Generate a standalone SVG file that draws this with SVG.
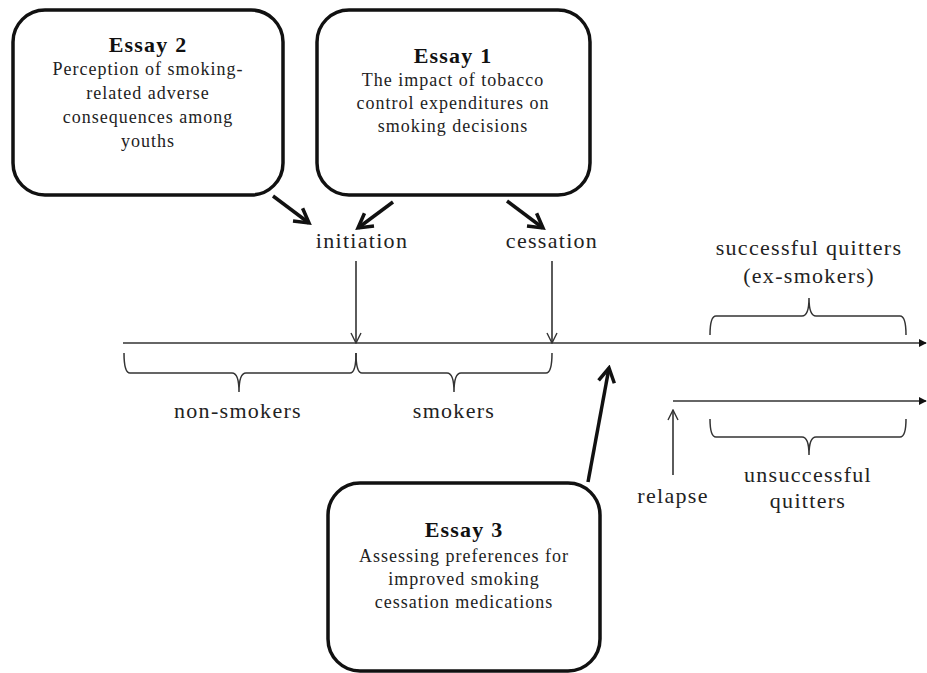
<svg xmlns="http://www.w3.org/2000/svg" width="927" height="673" viewBox="0 0 927 673">
<defs>
<marker id="thin" viewBox="0 0 12 12" refX="11" refY="6" markerWidth="12" markerHeight="12" markerUnits="userSpaceOnUse" orient="auto">
<path d="M1,1 L11,6 L1,11" fill="none" stroke="#333" stroke-width="1.4"/>
</marker>
<marker id="thick" viewBox="0 0 20 20" refX="17" refY="10" markerWidth="20" markerHeight="20" markerUnits="userSpaceOnUse" orient="auto">
<path d="M3,2 L17,10 L3,18" fill="none" stroke="#111" stroke-width="3.5" stroke-linejoin="miter"/>
</marker>
<marker id="tri" viewBox="0 0 10 10" refX="9" refY="5" markerWidth="8" markerHeight="8" markerUnits="userSpaceOnUse" orient="auto">
<path d="M0,0 L10,5 L0,10 Z" fill="#111"/>
</marker>
</defs>
<style>
.box{fill:#fff;stroke:#111;stroke-width:3.5}
.title{font-family:"Liberation Serif",serif;font-weight:bold;font-size:22px;fill:#111;text-anchor:middle;letter-spacing:1.2px}
.body{font-family:"Liberation Serif",serif;font-size:18px;fill:#222;text-anchor:middle;letter-spacing:1px}
.lbl{font-family:"Liberation Serif",serif;font-size:22px;fill:#222;text-anchor:middle;letter-spacing:1.3px}
.line{fill:none;stroke:#333;stroke-width:1.6}
.brace{fill:none;stroke:#333;stroke-width:1.5}
.big{fill:none;stroke:#111;stroke-width:3.5}
</style>
<g id="essay2">
<rect class="box" x="13" y="10" width="270" height="185" rx="32"/>
<text class="title" x="148" y="52">Essay 2</text>
<text class="body" x="148" y="75">Perception of smoking-</text>
<text class="body" x="148" y="99">related adverse</text>
<text class="body" x="148" y="123">consequences among</text>
<text class="body" x="148" y="147">youths</text>
</g>
<g id="essay1">
<rect class="box" x="317" y="10" width="273" height="185" rx="32"/>
<text class="title" x="453" y="63">Essay 1</text>
<text class="body" x="453" y="86">The impact of tobacco</text>
<text class="body" x="453" y="109">control expenditures on</text>
<text class="body" x="453" y="132">smoking decisions</text>
</g>
<g id="essay3">
<rect class="box" x="328" y="483" width="272" height="188" rx="32"/>
<text class="title" x="464" y="537">Essay 3</text>
<text class="body" x="464" y="562">Assessing preferences for</text>
<text class="body" x="464" y="585">improved smoking</text>
<text class="body" x="464" y="608">cessation medications</text>
</g>
<g id="labels">
<text class="lbl" x="362" y="248">initiation</text>
<text class="lbl" x="552" y="248">cessation</text>
<text class="lbl" x="809" y="255">successful quitters</text>
<text class="lbl" x="809" y="283">(ex-smokers)</text>
<text class="lbl" x="238" y="418">non-smokers</text>
<text class="lbl" x="454" y="418">smokers</text>
<text class="lbl" x="673" y="503">relapse</text>
<text class="lbl" x="808" y="482">unsuccessful</text>
<text class="lbl" x="808" y="508">quitters</text>
</g>
<g id="connectors">
<line class="line" x1="123" y1="343" x2="926" y2="343" marker-end="url(#tri)"/>
<line class="line" x1="673" y1="401" x2="926" y2="401" marker-end="url(#tri)"/>
<line class="line" x1="356" y1="261" x2="356" y2="343" marker-end="url(#thin)"/>
<line class="line" x1="552" y1="261" x2="552" y2="343" marker-end="url(#thin)"/>
<line class="line" x1="673" y1="475" x2="673" y2="410" marker-end="url(#thin)"/>
<line class="big" x1="273" y1="196" x2="309" y2="223" marker-end="url(#thick)"/>
<line class="big" x1="393" y1="202" x2="358" y2="228" marker-end="url(#thick)"/>
<line class="big" x1="507" y1="201" x2="543" y2="228" marker-end="url(#thick)"/>
<line class="big" x1="588" y1="482" x2="609" y2="368" marker-end="url(#thick)"/>
<path class="brace" d="M124,353 Q124,373 130,373 L232,373 Q239,373 239,392 M239,392 Q239,373 246,373 L350,373 Q356,373 356,353"/>
<path class="brace" d="M356,353 Q356,373 362,373 L447,373 Q454,373 454,392 M454,392 Q454,373 461,373 L546,373 Q552,373 552,353"/>
<path class="brace" d="M710,335 Q710,316 716,316 L802,316 Q809,316 809,298 M809,298 Q809,316 816,316 L900,316 Q906,316 906,335"/>
<path class="brace" d="M710,419 Q710,437 716,437 L802,437 Q809,437 809,455 M809,455 Q809,437 816,437 L900,437 Q906,437 906,419"/>
</g>
</svg>
